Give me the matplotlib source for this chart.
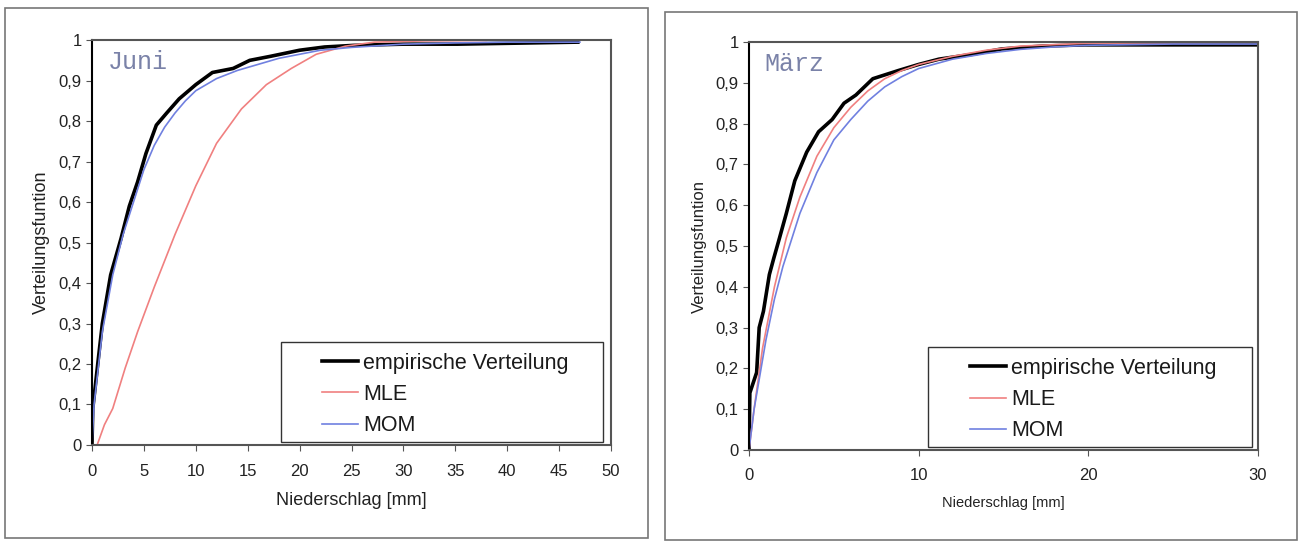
import numpy as np
import matplotlib.pyplot as plt
from matplotlib.patches import Rectangle

plt.rcParams['font.family'] = ['Liberation Sans', 'DejaVu Sans']

# Juni: empirische Verteilung, MLE, MOM
juni_emp_x = [0, 0.08, 0.6, 1.0, 1.8, 2.8, 3.6, 4.4, 5.2, 6.2, 7.2, 8.4, 10, 11.6, 13.6, 15.2, 17.2, 20, 22.4, 25.2, 30, 35.2, 46.8]
juni_emp_y = [0.0, 0.09, 0.21, 0.30, 0.42, 0.51, 0.59, 0.65, 0.72, 0.79, 0.82, 0.855, 0.89, 0.92, 0.93, 0.95, 0.96, 0.975, 0.983, 0.987, 0.99, 0.99, 0.995]
juni_mle_x = [0.5, 1.2, 2.0, 3.2, 4.4, 6, 8, 10, 12, 14.4, 16.8, 19.2, 21.6, 24.4, 27.2, 32, 38]
juni_mle_y = [0.0, 0.05, 0.09, 0.19, 0.28, 0.39, 0.52, 0.64, 0.745, 0.83, 0.89, 0.93, 0.965, 0.985, 0.995, 0.998, 0.999]
juni_mom_x = [0, 0.2, 1, 2, 3, 4, 5, 6, 7, 8, 9, 10, 12, 14, 16, 18, 20, 22, 25, 30, 35, 40, 47]
juni_mom_y = [0.0, 0.1, 0.28, 0.42, 0.52, 0.6, 0.68, 0.74, 0.785, 0.82, 0.85, 0.875, 0.905, 0.925, 0.94, 0.955, 0.965, 0.975, 0.982, 0.99, 0.993, 0.995, 0.995]

# März
maerz_emp_x = [0, 0.05, 0.45, 0.6, 0.85, 1.2, 1.46, 1.8, 2.2, 2.7, 3.4, 4.1, 4.9, 5.6, 6.3, 7.3, 8.8, 10, 11.2, 13.2, 14.9, 17.3, 19.8, 30]
maerz_emp_y = [0.0, 0.14, 0.19, 0.30, 0.34, 0.43, 0.47, 0.52, 0.58, 0.66, 0.73, 0.78, 0.81, 0.85, 0.87, 0.91, 0.93, 0.945, 0.958, 0.97, 0.983, 0.99, 0.993, 0.993]
maerz_mle_x = [0, 0.3, 0.8, 1.5, 2.2, 3, 4, 5, 6, 7, 8, 9, 10, 12, 14, 16, 20, 30]
maerz_mle_y = [0.0, 0.1, 0.25, 0.4, 0.52, 0.62, 0.72, 0.79, 0.84, 0.88, 0.91, 0.93, 0.945, 0.965, 0.98, 0.99, 0.997, 0.999]
maerz_mom_x = [0, 0.3, 1, 1.5, 2, 3, 4, 5, 6, 7, 8, 9, 10, 12, 14, 16, 18, 20, 25, 30]
maerz_mom_y = [0.0, 0.1, 0.27, 0.37, 0.45, 0.58, 0.68, 0.76, 0.81, 0.855, 0.89, 0.915, 0.935, 0.958, 0.972, 0.982, 0.988, 0.992, 0.995, 0.995]

y_ticks = [0, 0.1, 0.2, 0.3, 0.4, 0.5, 0.6, 0.7, 0.8, 0.9, 1]
y_labels = ['0', '0,1', '0,2', '0,3', '0,4', '0,5', '0,6', '0,7', '0,8', '0,9', '1']

fig = plt.figure(figsize=(12.99, 5.42), dpi=100)

# outer frames around each chart
fig.patches.append(Rectangle((5 / 1299, 4 / 542), 643 / 1299, 530 / 542, transform=fig.transFigure,
                             fill=False, edgecolor='#777777', lw=1.2))
fig.patches.append(Rectangle((665 / 1299, 2 / 542), 632 / 1299, 528 / 542, transform=fig.transFigure,
                             fill=False, edgecolor='#777777', lw=1.2))

panels = [
    dict(rect=[0.0708, 0.179, 0.3996, 0.747], title='Juni', xmax=50, xticks=np.arange(0, 51, 5),
         emp=(juni_emp_x, juni_emp_y), mle=(juni_mle_x, juni_mle_y), mom=(juni_mom_x, juni_mom_y),
         box=(0.364, 0.0074, 0.620, 0.247), anchor=(0.443, 0.228),
         xlab=13, ylab=13, xpad=10, lpad=9),
    dict(rect=[0.5766, 0.1697, 0.3918, 0.7528], title='März', xmax=30, xticks=[0, 10, 20, 30],
         emp=(maerz_emp_x, maerz_emp_y), mle=(maerz_mle_x, maerz_mle_y), mom=(maerz_mom_x, maerz_mom_y),
         box=(0.352, 0.0074, 0.637, 0.245), anchor=(0.434, 0.226),
         xlab=10.5, ylab=12, xpad=9, lpad=9),
]

for p in panels:
    ax = fig.add_axes(p['rect'])
    ax.plot(*p['emp'], color='black', lw=2.6, label='empirische Verteilung')
    ax.plot(*p['mle'], color='#f08080', lw=1.2, label='MLE')
    ax.plot(*p['mom'], color='#7080e0', lw=1.2, label='MOM')
    ax.set_xlim(0, p['xmax'])
    ax.set_ylim(0, 1)
    ax.set_xticks(p['xticks'])
    ax.set_yticks(y_ticks)
    ax.set_yticklabels(y_labels)
    ax.tick_params(labelsize=12, length=4, color='#555555', labelcolor='#222222')
    ax.tick_params(axis='x', pad=p['xpad'])
    for s in ax.spines.values():
        s.set_color('#555555')
        s.set_linewidth(1.5)
    ax.spines['left'].set_color('black')
    ax.set_xlabel('Niederschlag [mm]', fontsize=p['xlab'], labelpad=p['lpad'], color='#222222')
    ax.set_ylabel('Verteilungsfuntion', fontsize=p['ylab'], labelpad=6, color='#222222')
    ax.text(0.03, 0.975, p['title'], transform=ax.transAxes, va='top', ha='left',
            family='Liberation Mono', fontsize=18, color='#7a82a8')
    # legend frame drawn separately so the entries can sit inside it freely
    ax.add_patch(Rectangle(p['box'][:2], p['box'][2], p['box'][3], transform=ax.transAxes,
                           facecolor='white', edgecolor='#333333', lw=1.0, zorder=4))
    leg = ax.legend(loc='upper left', bbox_to_anchor=p['anchor'], frameon=False, fontsize=15.5,
                    handlelength=1.67, handletextpad=0.25, labelspacing=0.48,
                    borderpad=0, borderaxespad=0)
    leg.set_zorder(5)
    for t in leg.get_texts():
        t.set_color('#1a1a1a')

fig.savefig('out.png', dpi=100)
